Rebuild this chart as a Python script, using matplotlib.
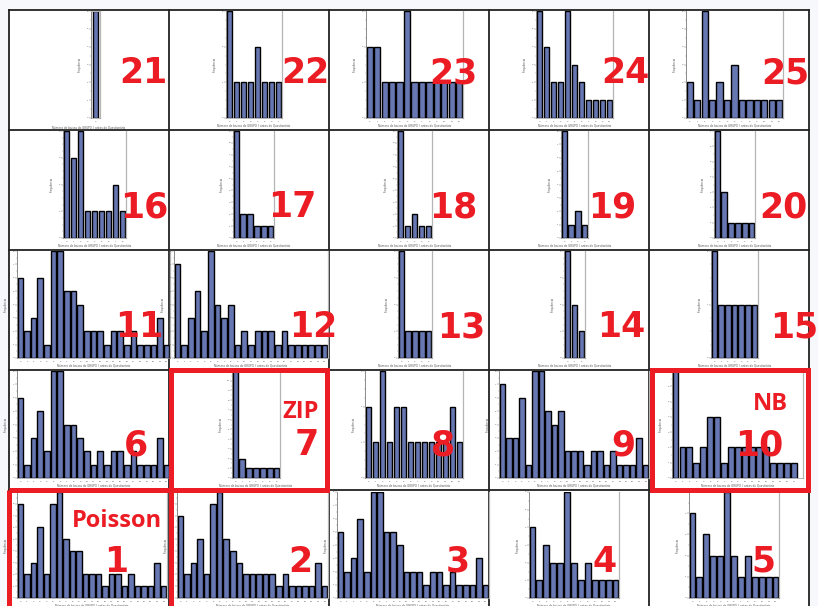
import matplotlib
matplotlib.use("Agg")
import matplotlib.pyplot as plt
from matplotlib.patches import Rectangle
from matplotlib.ticker import MultipleLocator

W, H = 818, 606

# frequencies per group (one histogram each)
g1 = [8, 2, 3, 6, 2, 8, 9, 5, 4, 4, 2, 2, 2, 1, 2, 2, 1, 2, 1, 1, 1, 3, 1]
g2 = [7, 2, 3, 5, 2, 8, 9, 5, 4, 3, 2, 2, 2, 2, 2, 1, 2, 1, 1, 1, 1, 3, 1]
g3 = [5, 2, 3, 6, 2, 8, 8, 5, 5, 4, 2, 2, 2, 1, 2, 2, 1, 2, 1, 1, 1, 3, 1]
g4 = [4, 1, 3, 2, 2, 6, 2, 1, 2, 1, 1, 1, 1]
g5 = [4, 1, 3, 2, 2, 5, 2, 1, 2, 1, 1, 1, 1]
g6 = [6, 1, 3, 5, 2, 8, 8, 4, 4, 3, 2, 1, 2, 1, 2, 2, 1, 2, 1, 1, 1, 3, 1]
g7 = [11, 2, 1, 1, 1, 1, 1]
g8 = [2, 1, 3, 1, 2, 2, 1, 1, 1, 1, 1, 1, 2, 1]
g9 = [7, 3, 3, 6, 1, 8, 8, 5, 4, 5, 2, 2, 2, 1, 2, 2, 1, 2, 1, 1, 1, 3, 1]
g10 = [7, 2, 2, 1, 2, 4, 4, 1, 2, 2, 2, 2, 2, 2, 1, 1, 1, 1]
g11 = [6, 2, 3, 6, 1, 8, 8, 5, 5, 4, 2, 2, 2, 1, 2, 2, 1, 2, 1, 1, 1, 3, 1]
g12 = [7, 1, 3, 5, 2, 8, 4, 3, 4, 1, 2, 1, 2, 2, 2, 1, 2, 1, 1, 1, 1, 1, 1]
g13 = [4, 1, 1, 1, 1]
g14 = [4, 2, 1]
g15 = [2, 1, 1, 1, 1, 1, 1]
g16 = [4, 3, 4, 1, 1, 1, 1, 2, 1]
g17 = [9, 2, 2, 1, 1, 1]
g18 = [9, 1, 2, 1, 1]
g19 = [8, 1, 2, 1]
g20 = [7, 3, 1, 1, 1, 1]
g21 = [6]
g22 = [3, 1, 1, 1, 2, 1, 1, 1]
g23 = [2, 2, 1, 1, 1, 3, 1, 1, 1, 1, 1, 1, 1]
g24 = [6, 4, 2, 2, 6, 3, 2, 1, 1, 1, 1]
g25 = [2, 1, 6, 1, 2, 1, 3, 1, 1, 1, 1, 1, 1]

groups = [g1, g2, g3, g4, g5, g6, g7, g8, g9, g10, g11, g12, g13,
          g14, g15, g16, g17, g18, g19, g20, g21, g22, g23, g24, g25]
model_names = {1: "Poisson", 7: "ZIP", 10: "NB"}

x_label = "Número de baixas do GRUPO II antes do Questionário"
y_label = "Frequência"

# plot-area extents in pixels (left, right) for each group
plot_x = {21: (91, 100), 22: (226, 282), 23: (366, 463), 24: (536, 613), 25: (686, 783),
          16: (63, 126), 17: (233, 274), 18: (397, 432), 19: (561, 588), 20: (714, 755),
          11: (17, 170), 12: (174, 328), 13: (398, 432), 14: (564, 585), 15: (711, 758),
          6: (17, 170), 7: (232, 280), 8: (365, 463), 9: (499, 649), 10: (672, 803),
          1: (17, 167), 2: (177, 328), 3: (337, 489), 4: (529, 619), 5: (689, 779)}
# plot-area top/bottom per row, counted from the bottom row
row_y = [(492, 598), (371, 478), (251, 358), (131, 238), (11, 118)]
# big label: right edge and baseline
num_pos = {21: (167, 83), 22: (330, 83), 23: (477, 83), 24: (649, 83), 25: (809, 83),
           16: (168, 217), 17: (317, 217), 18: (477, 217), 19: (636, 217), 20: (808, 217),
           11: (163, 337), 12: (337, 337), 13: (485, 337), 14: (645, 337), 15: (818, 337),
           6: (148, 455), 7: (319, 455), 8: (455, 455), 9: (635, 455), 10: (783, 455),
           1: (128, 572), 2: (312, 572), 3: (470, 572), 4: (617, 572), 5: (775, 572)}
name_pos = {1: (162, 527), 7: (319, 418), 10: (788, 410)}

grid_x = [9, 169, 329, 489, 649, 809]
grid_y = [10, 130, 250, 370, 490]

BAR = "#6677b2"
RED = "#ec1c24"

fig = plt.figure(figsize=(W / 100, H / 100), dpi=100)

bg = fig.add_axes([0, 0, 1, 1], zorder=0)
bg.set_xlim(0, W)
bg.set_ylim(H, 0)
bg.axis("off")
bg.add_patch(Rectangle((0, 0), W, H, color="#f6f8fc", lw=0))
bg.add_patch(Rectangle((grid_x[0], grid_y[0]), grid_x[-1] - grid_x[0], H - grid_y[0],
                       color="white", lw=0))
for gx in grid_x:
    bg.plot([gx, gx], [grid_y[0], H], color="#222222", lw=1.3)
for gy in grid_y:
    bg.plot([grid_x[0], grid_x[-1]], [gy, gy], color="#222222", lw=1.3)


def to_fig(x0, x1, y0, y1):
    return [x0 / W, 1 - y1 / H, (x1 - x0) / W, (y1 - y0) / H]


for k, vals in enumerate(groups, start=1):
    x0, x1 = plot_x[k]
    y0, y1 = row_y[(k - 1) // 5]
    ax = fig.add_axes(to_fig(x0, x1, y0, y1), zorder=1)
    ax.patch.set_alpha(0)
    n = len(vals)
    width = 0.6 if n == 1 else 0.84
    ax.bar(range(n), vals, width=width, color=BAR, edgecolor="black", linewidth=1.0)
    right = n - 0.5
    if k == 10:
        right = n + 0.35
    ax.set_xlim(-0.5 if n > 1 else -0.6, right if n > 1 else 0.6)
    ax.set_ylim(0, max(vals))
    ax.set_xticks(range(n))
    ax.set_xticklabels([str(i) for i in range(n)], fontsize=1.6, color="#444")
    ax.yaxis.set_major_locator(MultipleLocator(1))
    ax.yaxis.set_minor_locator(MultipleLocator(0.25 if max(vals) <= 4 else 0.5))
    ax.tick_params(axis="y", labelsize=1.6, labelcolor="#444", length=1.2, width=0.3,
                   color="#666", pad=0.6)
    ax.tick_params(axis="y", which="minor", length=0.8, width=0.3, color="#888")
    ax.tick_params(axis="x", length=0.8, width=0.3, color="#888", pad=1.2)
    ax.spines["top"].set_visible(n == 1)
    ax.spines["top"].set_color("#b5b5b5")
    ax.spines["left"].set_color("#777")
    ax.spines["left"].set_linewidth(0.6)
    ax.spines["right"].set_color("#b5b5b5")
    ax.spines["right"].set_linewidth(0.9)
    ax.spines["bottom"].set_color("#999")
    ax.spines["bottom"].set_linewidth(0.5)
    ax.set_ylabel(y_label, fontsize=2.0, color="#555", labelpad=2.5)
    if n == 1:
        # keep the label centred in the cell rather than under the thin axis
        cx = (grid_x[0] + grid_x[1]) / 2
        fig.text(cx / W, 1 - 127.5 / H, x_label, fontsize=2.0, color="#555",
                 ha="center", va="center")
    else:
        ax.set_xlabel(x_label, fontsize=2.0, color="#555", labelpad=1.5)

top = fig.add_axes([0, 0, 1, 1], zorder=5)
top.set_xlim(0, W)
top.set_ylim(H, 0)
top.axis("off")
top.patch.set_alpha(0)

# red frames around the fitted-model groups
top.add_patch(Rectangle((9, 490), 162, 130, fill=False, ec=RED, lw=3.6))
top.add_patch(Rectangle((171, 370), 156, 120, fill=False, ec=RED, lw=3.6))
top.add_patch(Rectangle((652, 370), 156, 120, fill=False, ec=RED, lw=3.6))

for k in range(1, 26):
    xr, yb = num_pos[k]
    top.text(xr, yb, str(k), color=RED, fontsize=25, fontweight="bold",
             family="DejaVu Sans", ha="right", va="baseline")
for k, name in model_names.items():
    xr, yb = name_pos[k]
    top.text(xr, yb, name, color=RED, fontsize=17, fontweight="bold",
             family=["Open Sans", "DejaVu Sans"], ha="right", va="baseline")

fig.savefig("out.png", dpi=100)
